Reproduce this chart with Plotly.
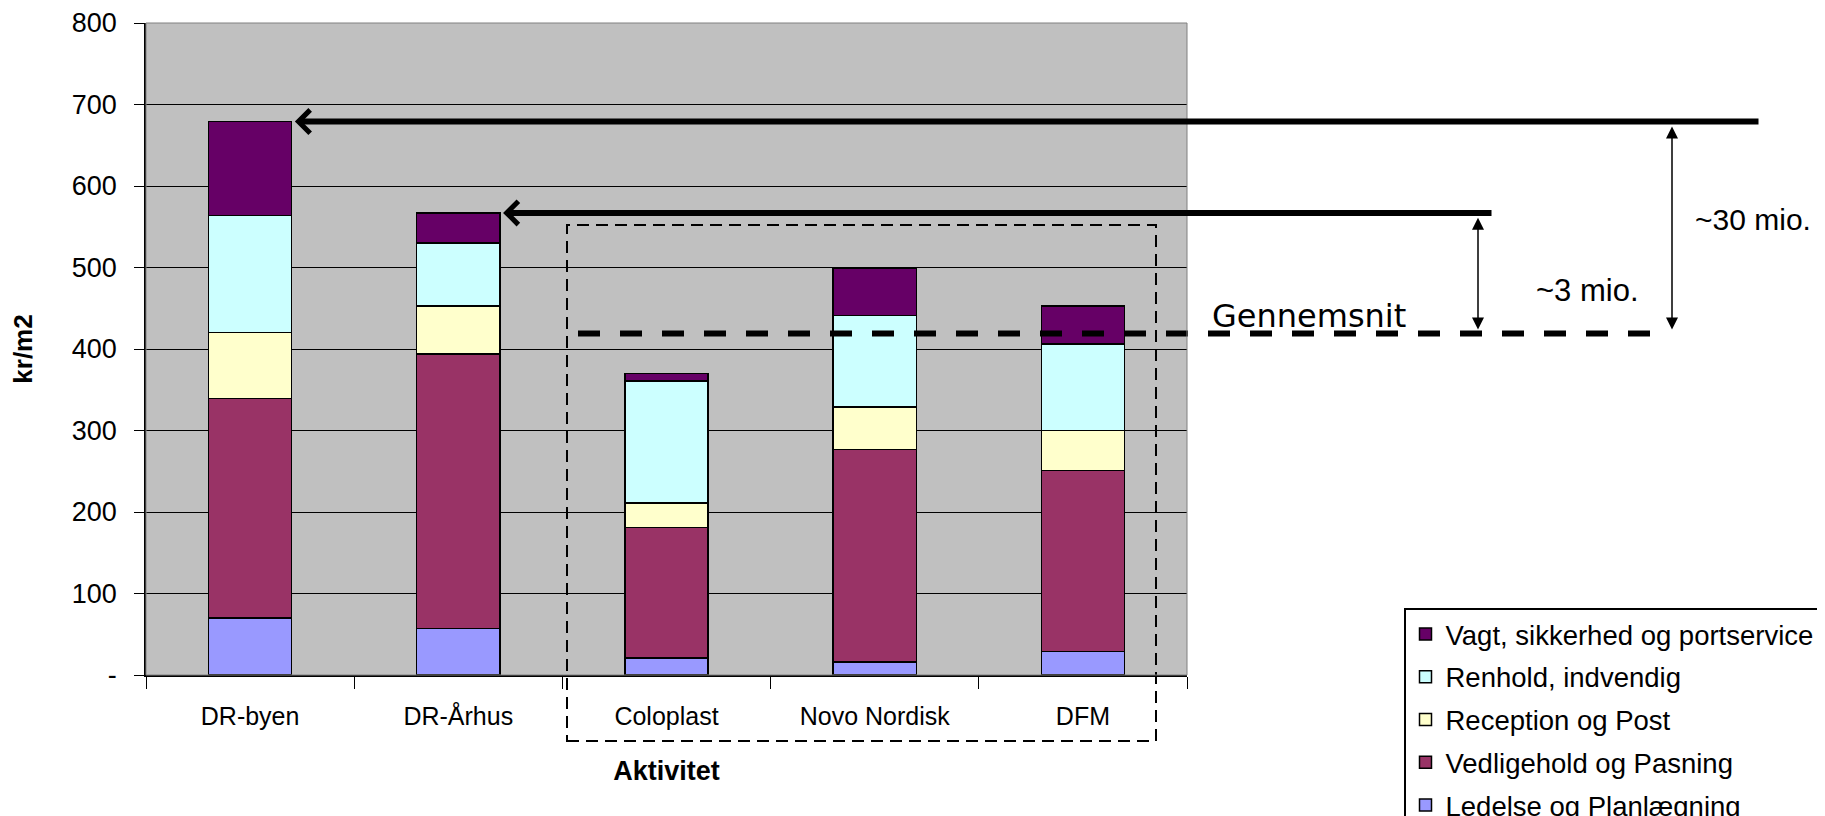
import numpy as np
import plotly.graph_objects as go

categories = ["DR-byen", "DR-Århus", "Coloplast", "Novo Nordisk", "DFM"]
ledelse = [70, 57, 21, 16, 29]
vedligehold = [269, 337, 160, 261, 222]
reception = [81, 59, 30, 52, 49]
renhold = [144, 77, 150, 112, 106]
vagt = [115, 37, 9, 58, 47]
series_names = ["Ledelse og Planlægning", "Vedligehold og Pasning", "Reception og Post",
                "Renhold, indvendig", "Vagt, sikkerhed og portservice"]
series_colors = ["#9999FF", "#993366", "#FFFFCC", "#CCFFFF", "#660066"]
y_tickvals = [0, 100, 200, 300, 400, 500, 600, 700, 800]
y_ticktext = ["-", "100", "200", "300", "400", "500", "600", "700", "800"]
gennemsnit = 419

OFF = 8  # browser body margin
W, H = 1825 - OFF, 816 - OFF
PL, PR, PT, PB = 146, 1187, 23, 675  # plot area in page pixels
ML, MT = PL - OFF, PT - OFF
MR = W - (PR - OFF)
MB = H - (PB - OFF)
PW = PR - PL
PH = PB - PT

def xpaper(px):
    return (px - PL) / PW

def ypaper(py):
    return (PB - py) / PH

def xdata(px):
    return (px - PL) / PW * len(categories) - 0.5

FONT = "Liberation Sans, Arial, sans-serif"
BAR_W = 0.4

fig = go.Figure()
all_series = [ledelse, vedligehold, reception, renhold, vagt]
n_series = len(all_series)
for k, (name, vals, col) in enumerate(zip(series_names, all_series, series_colors)):
    fig.add_trace(go.Bar(
        x=categories, y=vals, name=name, width=BAR_W,
        marker=dict(color=col, line=dict(color="black", width=1.5)),
        legendgroup=name, legendrank=n_series - k,
    ))

totals = np.sum(np.array(all_series), axis=0)

annotations = []
shapes = []

# big horizontal arrows to DR-byen and DR-Århus totals
tails_px = [1760, 1493]
for i, tail in enumerate(tails_px):
    annotations.append(dict(
        x=i + BAR_W / 2 + 0.015, y=float(totals[i]), xref="x", yref="y",
        ax=xdata(tail), ay=float(totals[i]), axref="x", ayref="y",
        showarrow=True, arrowhead=4, arrowsize=0.75, arrowwidth=6,
        arrowcolor="black", text="",
    ))

# average dashed line
shapes.append(dict(type="line", xref="paper", yref="y",
                   x0=xpaper(578), x1=xpaper(1667), y0=gennemsnit, y1=gennemsnit,
                   line=dict(color="black", width=6, dash="22px,20px"), layer="above"))

# dashed rectangle around the three companies
shapes.append(dict(type="rect", xref="paper", yref="paper",
                   x0=xpaper(567), x1=xpaper(1156), y0=ypaper(741), y1=ypaper(225),
                   line=dict(color="black", width=2, dash="12px,7px"), layer="above"))

# plot-area border
shapes.append(dict(type="rect", xref="paper", yref="paper", x0=0, x1=1, y0=0, y1=1,
                   line=dict(color="#808080", width=1), layer="above"))

# vertical double arrows
for xpx, i in [(1478, 1), (1672, 0)]:
    annotations.append(dict(
        x=xpaper(xpx), y=float(totals[i]) - 6, xref="paper", yref="y",
        ax=0, ay=gennemsnit + 3, axref="pixel", ayref="y",
        showarrow=True, arrowhead=2, arrowside="end+start", arrowsize=1.6,
        arrowwidth=1.5, arrowcolor="black", text="",
    ))

annotations.append(dict(x=xpaper(1210), y=440, xref="paper", yref="y", text="Gennemsnit",
                        showarrow=False, xanchor="left", yanchor="middle",
                        font=dict(family="DejaVu Sans", size=32, color="black")))
annotations.append(dict(x=xpaper(1534), y=472, xref="paper", yref="y", text="~3 mio.",
                        showarrow=False, xanchor="left", yanchor="middle",
                        font=dict(family=FONT, size=31, color="black")))
annotations.append(dict(x=xpaper(1693), y=559, xref="paper", yref="y", text="~30 mio.",
                        showarrow=False, xanchor="left", yanchor="middle",
                        font=dict(family=FONT, size=30, color="black")))

fig.update_layout(
    width=W, height=H,
    margin=dict(l=ML, r=MR, t=MT, b=MB, autoexpand=False),
    barmode="stack",
    paper_bgcolor="white",
    plot_bgcolor="#C0C0C0",
    font=dict(family=FONT, size=24, color="black"),
    showlegend=True,
    legend=dict(
        x=xpaper(1404), y=ypaper(608), xanchor="left", yanchor="top",
        traceorder="grouped", bgcolor="white", bordercolor="black", borderwidth=1.5,
        font=dict(family=FONT, size=27.5, color="black"),
        tracegroupgap=4, itemwidth=30,
    ),
    xaxis=dict(
        type="category", range=[-0.5, 4.5],
        showline=True, linecolor="black", linewidth=1.5,
        ticks="outside", tickson="boundaries", ticklen=12, tickcolor="black", tickwidth=1,
        tickfont=dict(family=FONT, size=25), ticklabelstandoff=18,
        title=dict(text="<b>Aktivitet</b>", font=dict(family=FONT, size=27), standoff=32),
        showgrid=False, zeroline=False,
    ),
    yaxis=dict(
        range=[0, 800], tickvals=y_tickvals, ticktext=y_ticktext,
        showline=True, linecolor="black", linewidth=1.5,
        ticks="outside", ticklen=10, tickcolor="black", tickwidth=1,
        tickfont=dict(family=FONT, size=27), ticklabelstandoff=12,
        showgrid=True, gridcolor="black", gridwidth=1, zeroline=False,
        title=dict(text="<b>kr/m2</b>", font=dict(family=FONT, size=26), standoff=36),
    ),
    annotations=annotations,
    shapes=shapes,
)

fig.write_html("out.html")
